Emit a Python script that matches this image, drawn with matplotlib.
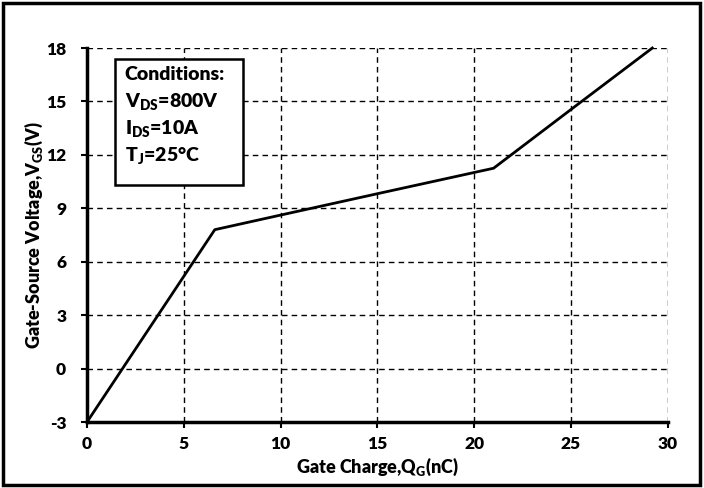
import matplotlib.pyplot as plt
from matplotlib.patches import Rectangle

plt.rcParams['font.family'] = ['Lato', 'DejaVu Sans']
plt.rcParams['font.weight'] = 'heavy'
plt.rcParams['mathtext.fontset'] = 'custom'
plt.rcParams['mathtext.bf'] = 'Lato:heavy'
plt.rcParams['mathtext.rm'] = 'Lato:heavy'
plt.rcParams['mathtext.default'] = 'bf'

# Gate charge curve (nC, V)
qg = [0.0, 6.6, 10.0, 15.0, 21.0, 25.0, 29.2]
vgs = [-3.0, 7.8, 8.62, 9.82, 11.25, 14.55, 18.0]

x_ticks = [0, 5, 10, 15, 20, 25, 30]
y_ticks = [-3, 0, 3, 6, 9, 12, 15, 18]
conditions = ["Conditions:", r"V$_{DS}$=800V", r"I$_{DS}$=10A", r"T$_{J}$=25°C"]

fig = plt.figure(figsize=(7.04, 4.88), dpi=100)
ax = fig.add_axes([0.1236, 0.1352, 0.825, 0.7664])

ax.plot(qg, vgs, color='black', lw=2, zorder=3, clip_on=False)

ax.set_xlim(0, 30)
ax.set_ylim(-3, 18)
ax.set_xticks(x_ticks)
ax.set_yticks(y_ticks)
ax.set_yticklabels([str(t) for t in y_ticks])
ax.grid(True, color='black', ls=(0, (4, 3)), lw=1)
ax.tick_params(labelsize=12.5, length=4, width=1.5, direction='out')
ax.tick_params(axis='y', pad=11)
ax.tick_params(axis='x', pad=6)
for lab in ax.get_xticklabels() + ax.get_yticklabels():
    lab.set_fontweight('heavy')

ax.spines['top'].set_visible(False)
ax.spines['right'].set_visible(False)
ax.spines['left'].set_linewidth(2.5)
ax.spines['bottom'].set_linewidth(2.5)

ax.set_xlabel(r"Gate Charge,Q$_{G}$(nC)", fontsize=13, fontweight='heavy', labelpad=3)
ax.set_ylabel(r"Gate-Source Voltage,V$_{GS}$(V)", fontsize=13, fontweight='heavy', labelpad=1)

# conditions box
ax.add_patch(Rectangle((1.45, 10.3), 6.6, 7.08, fill=True, facecolor='white',
                       edgecolor='black', lw=1.8, zorder=4))
for i, s in enumerate(conditions):
    ax.text(1.95, 16.5 - i * 1.52, s, fontsize=14, fontweight='heavy',
            va='center', ha='left', zorder=5)

# outer frame
fig.patches.append(Rectangle((0.004, 0.006), 0.99, 0.988, transform=fig.transFigure,
                             fill=False, edgecolor='black', lw=2.5))

fig.savefig('out.png', dpi=100)
